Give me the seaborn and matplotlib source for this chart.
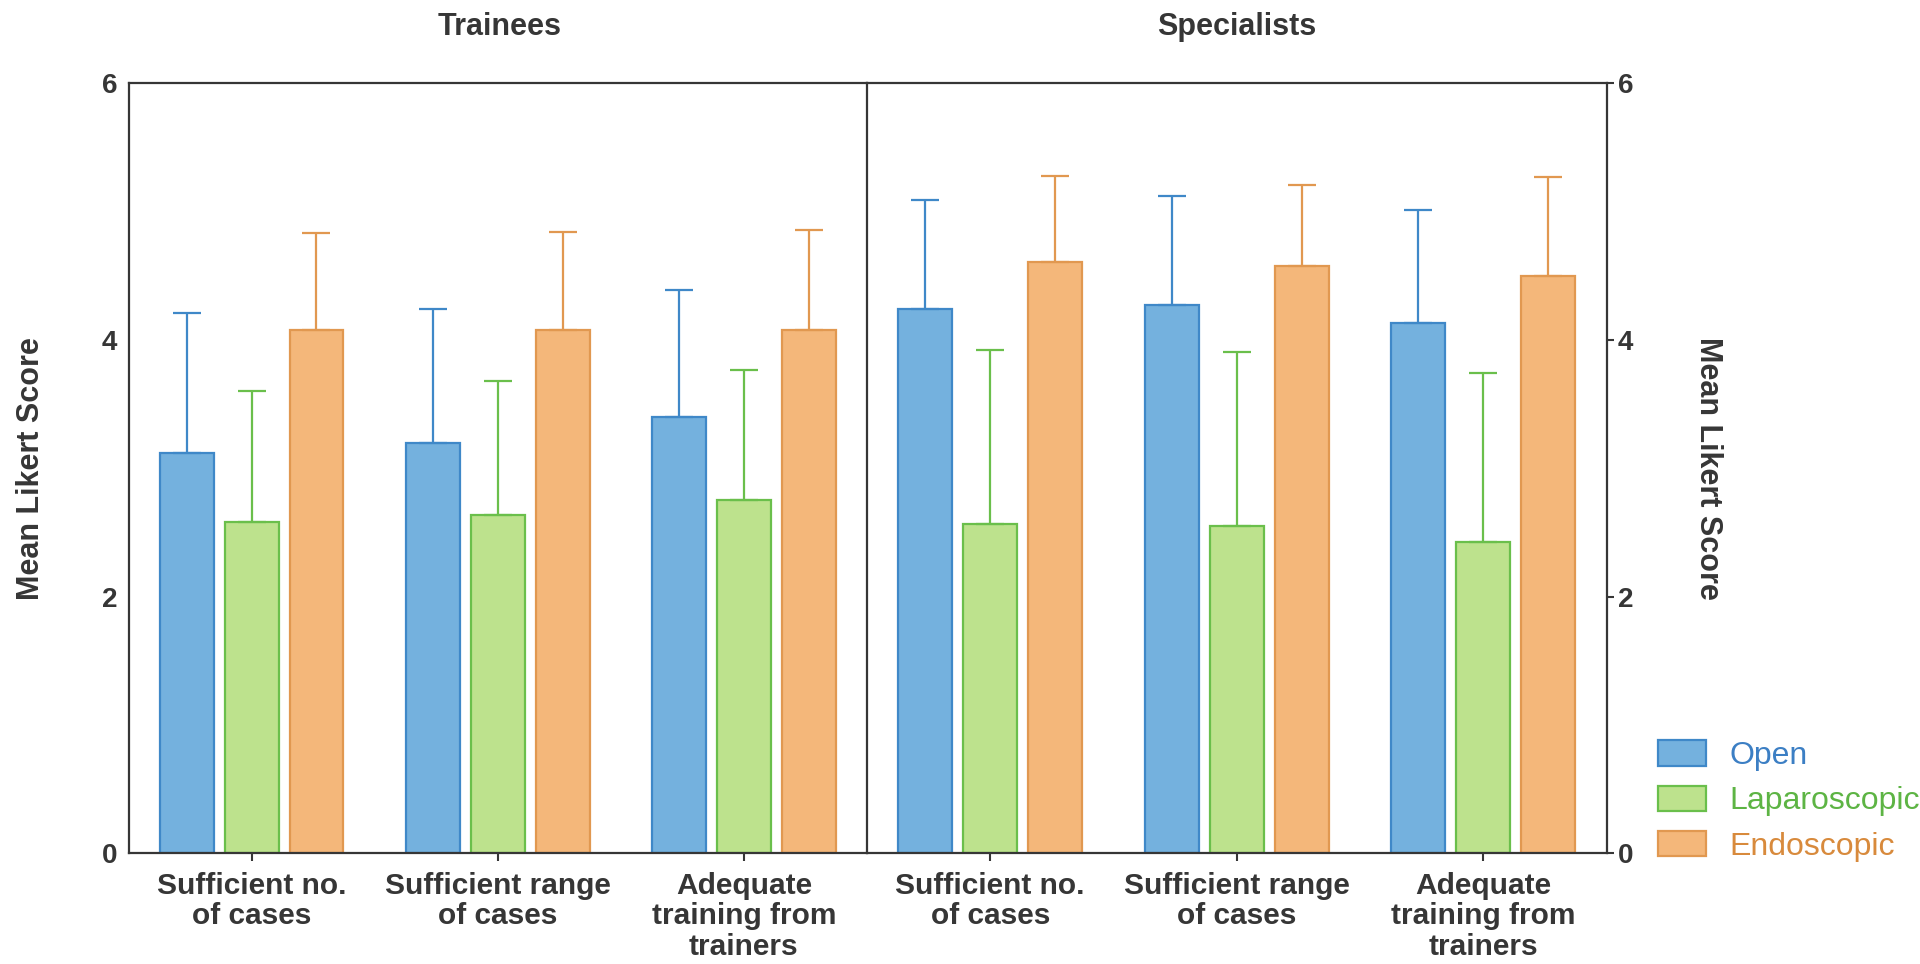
import numpy as np
import pandas as pd
import matplotlib
matplotlib.use("Agg")
import matplotlib.pyplot as plt
import seaborn as sns
from matplotlib.patches import Patch

# Survey items and approaches
items = ["Sufficient no.\nof cases", "Sufficient range\nof cases", "Adequate\ntraining from\ntrainers"]
approaches = ["Open", "Laparoscopic", "Endoscopic"]
cohorts = ["Trainees", "Specialists"]

# Mean Likert scores (per item) and standard deviations
trainees_open = [3.12, 3.20, 3.40]
trainees_lap = [2.58, 2.64, 2.75]
trainees_endo = [4.08, 4.08, 4.08]
trainees_open_sd = [1.09, 1.04, 0.99]
trainees_lap_sd = [1.02, 1.04, 1.02]
trainees_endo_sd = [0.75, 0.76, 0.78]

specialists_open = [4.24, 4.27, 4.13]
specialists_lap = [2.57, 2.55, 2.43]
specialists_endo = [4.61, 4.58, 4.50]
specialists_open_sd = [0.85, 0.85, 0.88]
specialists_lap_sd = [1.35, 1.36, 1.31]
specialists_endo_sd = [0.67, 0.63, 0.77]

y_ticks = [0, 2, 4, 6]

fill_colors = {"Open": "#74b1de", "Laparoscopic": "#bde28d", "Endoscopic": "#f4b77a"}
edge_colors = {"Open": "#3f88c8", "Laparoscopic": "#6abf4b", "Endoscopic": "#e19850"}
text_colors = {"Open": "#3c7fc4", "Laparoscopic": "#5db444", "Endoscopic": "#d88a3c"}

rows = []
series = {
    "Trainees": [(trainees_open, trainees_open_sd), (trainees_lap, trainees_lap_sd), (trainees_endo, trainees_endo_sd)],
    "Specialists": [(specialists_open, specialists_open_sd), (specialists_lap, specialists_lap_sd),
                    (specialists_endo, specialists_endo_sd)],
}
for cohort in cohorts:
    for approach, (means, sds) in zip(approaches, series[cohort]):
        for item, m, s in zip(items, means, sds):
            rows.append({"cohort": cohort, "item": item, "approach": approach, "mean": m, "sd": s})
df = pd.DataFrame(rows)

sns.set_theme(style="white")
plt.rcParams["font.family"] = ["Liberation Sans", "DejaVu Sans"]
ink = "#363636"

fig = plt.figure(figsize=(19.2, 9.64), dpi=100)
ax_left = fig.add_axes([0.06698, 0.11463, 0.38458, 0.79896])
ax_right = fig.add_axes([0.45156, 0.11463, 0.38516, 0.79896])

for ax, cohort in zip([ax_left, ax_right], cohorts):
    sub = df[df["cohort"] == cohort]
    sns.barplot(data=sub, x="item", y="mean", hue="approach", order=items, hue_order=approaches,
                palette=fill_colors, width=0.79, gap=0.17, errorbar=None, saturation=1,
                legend=False, ax=ax)
    for container, approach in zip(ax.containers, approaches):
        sds = sub[sub["approach"] == approach].set_index("item").loc[items, "sd"].values
        for bar, sd in zip(container, sds):
            bar.set_edgecolor(edge_colors[approach])
            bar.set_linewidth(1.6)
            xc = bar.get_x() + bar.get_width() / 2
            ax.errorbar(xc, bar.get_height(), yerr=[[0], [sd]], fmt="none",
                        ecolor=edge_colors[approach], elinewidth=1.6, capsize=10,
                        capthick=1.6, zorder=1)
    ax.set_xlim(-0.5, 2.5)
    ax.set_ylim(0, 6)
    ax.set_yticks(y_ticks)
    ax.set_xlabel("")
    ax.set_ylabel("")
    for side in ["left", "right", "top", "bottom"]:
        ax.spines[side].set_color(ink)
        ax.spines[side].set_linewidth(1.6)
    ax.tick_params(axis="x", bottom=True, length=6, width=1.5, color=ink, pad=7,
                   labelsize=21.5, labelcolor=ink)
    ax.tick_params(axis="y", length=5, width=1.5, color=ink, pad=3,
                   labelsize=20, labelcolor=ink)
    for lbl in ax.get_xticklabels() + ax.get_yticklabels():
        lbl.set_fontweight("bold")
        lbl.set_linespacing(1.12)

# The divider between the two cohorts is the right panel's left spine
ax_left.spines["right"].set_visible(False)
ax_right.spines["left"].set_visible(True)
ax_right.yaxis.tick_right()
ax_right.tick_params(axis="y", left=False, right=True)
for lbl in ax_right.get_yticklabels():
    lbl.set_fontweight("bold")

# Cohort headings
fig.text(500 / 1920, 1 - 27 / 964, "Trainees", ha="center", va="center",
         fontsize=22, fontweight="bold", color=ink)
fig.text(1237 / 1920, 1 - 27 / 964, "Specialists", ha="center", va="center",
         fontsize=22, fontweight="bold", color=ink)

# Axis titles on both sides
fig.text(31 / 1920, 0.514, "Mean Likert Score", rotation=90, ha="center", va="center",
         fontsize=22, fontweight="bold", color=ink)
fig.text(1708 / 1920, 0.514, "Mean Likert Score", rotation=270, ha="center", va="center",
         fontsize=22, fontweight="bold", color=ink)

handles = [Patch(facecolor=fill_colors[a], edgecolor=edge_colors[a], linewidth=1.6) for a in approaches]
leg = fig.legend(handles, approaches, loc="center left", bbox_to_anchor=(1658 / 1920, 1 - 801 / 964),
                 frameon=False, fontsize=23, handlelength=1.5, handleheight=0.85,
                 handletextpad=0.75, labelspacing=0.45, borderpad=0, borderaxespad=0)
for txt, a in zip(leg.get_texts(), approaches):
    txt.set_color(text_colors[a])

fig.savefig("out.png", dpi=100)
